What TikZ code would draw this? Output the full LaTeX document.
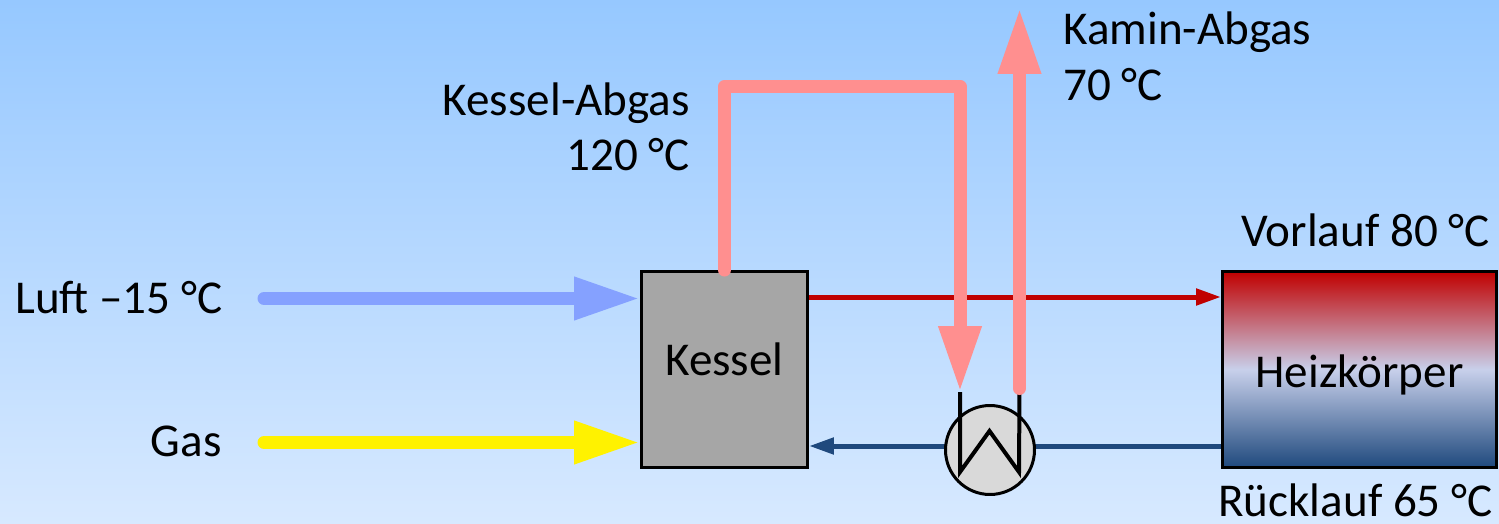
\documentclass[tikz,border=0pt]{standalone}
\usepackage{fontspec}
\setmainfont{Carlito}
\usetikzlibrary{arrows.meta}
\definecolor{BgTop}{RGB}{150,200,255}
\definecolor{BgBottom}{RGB}{215,233,255}
\definecolor{AbgasRot}{RGB}{255,143,143}
\definecolor{LuftBlau}{RGB}{133,161,255}
\definecolor{VorlaufRot}{RGB}{192,0,0}
\definecolor{RuecklaufBlau}{RGB}{31,73,125}
\definecolor{KesselGrau}{RGB}{166,166,166}
\definecolor{WtGrau}{RGB}{217,217,217}
\definecolor{HeizMitte}{RGB}{200,208,235}
\tikzset{
  lbl/.style={inner sep=0pt,font=\fontsize{26.8}{32}\selectfont},
  box/.style={draw,line width=0.06cm,inner sep=0pt},
  pipe/.style={line width=0.26cm,line cap=round,line join=round,-{Triangle[length=1.32cm,width=0.8cm]}},
  water/.style={line width=0.1cm,-{Triangle[length=0.5cm,width=0.32cm]}}
}
\begin{document}
\begin{tikzpicture}[x=0.02cm,y=-0.02cm]
                \useasboundingbox (0,0) rectangle (1499,524);
                \fill[top color=BgTop,bottom color=BgBottom] (0,0) rectangle (1499,524);

                \node[box,fill=KesselGrau,minimum width=3.32cm,minimum height=3.92cm] (kessel) at (724.5,369.5) {};
                \node[lbl,anchor=base] (kesseltxt) at ([yshift=-0.11cm]kessel.center) {Kessel};
                \node[box,top color=VorlaufRot,bottom color=RuecklaufBlau,middle color=HeizMitte,minimum width=5.48cm,minimum height=3.92cm] (heiz) at (1359.5,369.5) {};
                \node[lbl,anchor=base] (heiztxt) at ([yshift=-0.37cm]heiz.center) {Heizkörper};

                \coordinate (luft) at (264,298.5);
                \coordinate (gas) at (264,442.5);
                \coordinate (vl) at (0,297);
                \coordinate (rl) at (0,446);
                \coordinate (wtein) at (960,392);
                \coordinate (wtaus) at (1019.5,392);
                \coordinate (knick) at (960,86.5);
                \coordinate (kaminfuss) at (1019.5,388.5);
                \coordinate (kamin) at (1019.5,8);

                \draw[pipe,LuftBlau] (luft) -- (luft -| kessel.west);
                \draw[pipe,yellow] (gas) -- (gas -| kessel.west);

                \draw[water,VorlaufRot] (kessel.east |- vl) -- (heiz.west |- vl);
                \draw[water,RuecklaufBlau] (heiz.west |- rl) -- (kessel.east |- rl);

                \node[circle,draw,line width=0.06cm,fill=WtGrau,minimum size=1.78cm,inner sep=0pt] (wt) at (990,450) {};
                \draw[line width=0.08cm] (wtein) -- ++(0,80) -- ++(29.5,-41) -- ++(29.5,41) -- (wtaus);

                \draw[pipe,AbgasRot] (kessel.north) |- (knick) -- (wtein);
                \draw[pipe,AbgasRot] (kaminfuss) -- (kamin);

                \node[lbl,anchor=base west] (kamintxt) at (1063,45) {Kamin-Abgas};
                \node[lbl,anchor=base west] (kamintemp) at (1063,100) {70 °C};
                \node[lbl,anchor=base east] (abgastxt) at (690,115) {Kessel-Abgas};
                \node[lbl,anchor=base east] (abgastemp) at (690,170) {120 °C};
                \node[lbl,anchor=base east] (vltxt) at (1490,246) {Vorlauf 80 °C};
                \node[lbl,anchor=base west] (lufttxt) at (15,313) {Luft –15 °C};
                \node[lbl,anchor=base east] (gastxt) at (222,456) {Gas};
                \node[lbl,anchor=base west] (rltxt) at (1218,516) {Rücklauf 65 °C};
\end{tikzpicture}
\end{document}
